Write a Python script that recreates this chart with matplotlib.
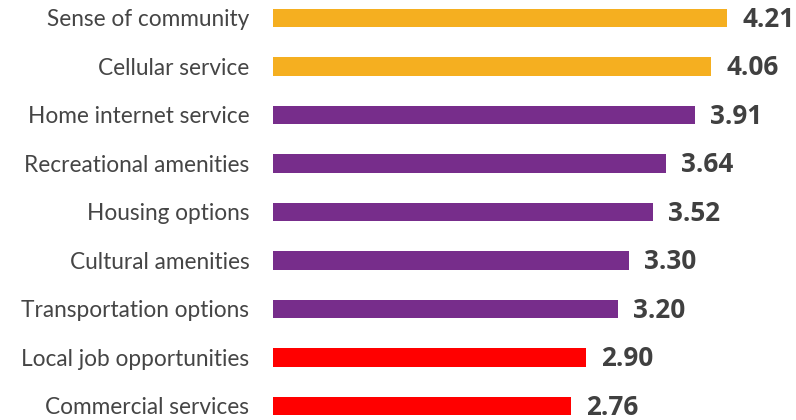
import matplotlib
matplotlib.use("Agg")
import matplotlib.pyplot as plt

categories = [
    "Sense of community",
    "Cellular service",
    "Home internet service",
    "Recreational amenities",
    "Housing options",
    "Cultural amenities",
    "Transportation options",
    "Local job opportunities",
    "Commercial services",
]
scores = [4.21, 4.06, 3.91, 3.64, 3.52, 3.30, 3.20, 2.90, 2.76]
groups = ["high", "high", "mid", "mid", "mid", "mid", "mid", "low", "low"]

palette = {"high": "#F5AF20", "mid": "#772D8B", "low": "#FF0000"}

fig = plt.figure(figsize=(7.96, 4.2), dpi=100)
ax = fig.add_axes([273 / 796, 0, 1 - 273 / 796, 1])

pos = list(range(len(categories)))
ax.barh(pos, scores, height=0.39, color=[palette[g] for g in groups])

for y, v in zip(pos, scores):
    ax.text(v + 0.14, y + 0.03, f"{v:.2f}", va="center", ha="left",
            fontsize=18.8, fontweight="bold", color="#404040",
            family="Open Sans")

ax.set_yticks(pos)
ax.set_yticklabels(categories, fontsize=16.3, color="#454545", family="Lato")
ax.tick_params(axis="y", length=0, pad=17)
ax.set_xticks([])
ax.set_xlim(0, 523 / 107.9)
ax.set_ylim(8.289, -0.371)
for s in ax.spines.values():
    s.set_visible(False)

fig.savefig("out.png", dpi=100)
